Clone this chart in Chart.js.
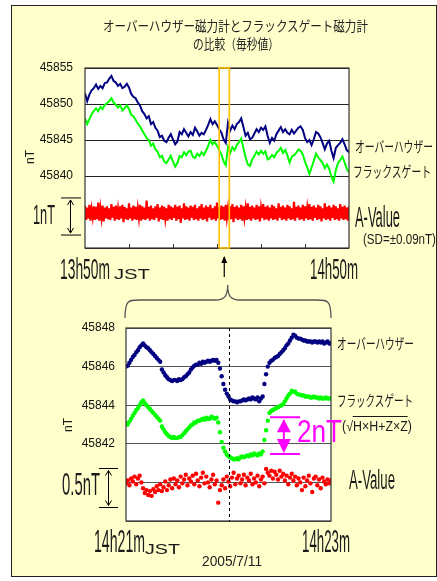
<!DOCTYPE html>
<html>
<head>
<meta charset="utf-8">
<script src="https://cdn.jsdelivr.net/npm/chart.js"></script>
<style>
html,body{margin:0;padding:0;background:#fff;}
body{width:437px;height:581px;position:relative;overflow:hidden;}
#frame{position:absolute;left:11px;top:5px;width:424px;height:570px;border:1px solid #222;background:#FFFFCC;}
canvas{position:absolute;left:0;}
#c1{top:0;}
#c2{top:280px;}
.lbl{position:absolute;white-space:nowrap;line-height:1;transform-origin:left center;color:#1a1a1a;}
.rot{position:absolute;white-space:nowrap;line-height:1;color:#1a1a1a;transform:translate(-50%,-50%) rotate(-90deg);font-family:"Liberation Sans",Arial,sans-serif;}
.ov{border-top:1px solid #1a1a1a;padding-top:1px;}
</style>
</head>
<body>
<div id="frame"></div>
<canvas id="c1" width="437" height="290"></canvas>
<canvas id="c2" width="437" height="301"></canvas>
<script>
// ---------- DATA ----------
// Upper chart: 13h50m - 14h50m (minutes from 13h50m), values every 30 s
const upperOverhauser = [
45851.5,45850.4,45851.3,45851.9,45852.2,45852.7,45852.1,45852.5,45852.2,45852.9,
45853.0,45853.5,45853.9,45853.2,45853.0,45852.5,45852.8,45852.2,45852.4,45852.8,
45852.3,45851.4,45851.0,45850.8,45850.2,45849.8,45849.0,45848.6,45848.0,45848.3,
45847.2,45847.5,45846.7,45846.3,45845.4,45845.6,45844.9,45844.7,45845.3,45845.8,
45845.1,45844.4,45844.8,45846.1,45845.8,45846.5,45846.0,45845.5,45846.1,45845.7,
45846.7,45846.2,45845.6,45846.0,45845.8,45846.4,45847.1,45847.9,45847.2,45847.6,
45847.1,45846.5,45846.0,45845.1,45844.6,45847.4,45846.3,45847.0,45846.5,45847.2,
45847.5,45848.0,45846.8,45845.6,45846.0,45845.1,45845.3,45845.9,45846.5,45846.1,
45846.7,45846.4,45846.9,45845.6,45844.6,45845.3,45844.9,45845.8,45846.3,45846.8,
45846.1,45846.5,45846.0,45845.8,45846.4,45845.9,45846.3,45846.7,45846.9,45846.4,
45845.3,45844.7,45845.0,45844.3,45845.1,45846.1,45845.9,45845.4,45844.6,45843.7,
45844.5,45844.9,45843.5,45842.5,45843.9,45844.3,45844.6,45845.1,45844.4,45843.6,
45843.3];
const upperFluxgate = [
45848.0,45847.2,45847.9,45848.6,45849.0,45849.4,45849.0,45849.6,45849.3,45849.9,
45850.1,45850.4,45850.8,45850.2,45849.9,45849.5,45849.8,45849.1,45849.4,45849.8,
45849.3,45848.5,45848.3,45847.8,45847.3,45846.9,45846.3,45845.8,45845.3,45845.0,
45844.2,45844.5,45843.7,45843.4,45842.6,45842.8,45842.0,45841.8,45842.3,45842.8,
45842.0,45841.3,45841.8,45842.8,45842.6,45843.3,45842.9,45843.4,45843.5,45842.7,
45842.5,45843.1,45842.8,45843.3,45842.9,45843.5,45844.2,45845.0,45844.4,45844.7,
45844.2,45843.6,45843.0,45842.0,45841.5,45844.0,45843.2,45844.0,45843.6,45844.3,
45844.7,45845.2,45843.9,45842.6,45841.6,45841.4,45842.3,45842.8,45843.4,45843.0,
45843.5,45843.1,45843.4,45842.3,45842.5,45842.9,45842.6,45843.2,45843.5,45843.9,
45843.2,45843.6,45842.9,45841.9,45842.7,45842.9,45843.2,45843.7,45843.5,45843.0,
45842.0,45841.2,45840.3,45841.2,45842.1,45843.1,45842.6,45842.2,45841.8,45841.1,
45841.6,45841.0,45839.9,45839.2,45840.8,45841.8,45842.2,45842.7,45841.9,45841.0,
45840.5];
// A-Value (plotted, scaled) every 15 s
const upperAValue = [
45835.9,45833.9,45835.6,45834.1,45836.0,45833.8,45835.4,45834.3,45835.8,45833.9,45835.7,45834.0,45836.3,45833.8,45835.5,45834.2,45835.9,45833.7,45835.6,45834.1,
45835.8,45834.0,45835.5,45833.9,45836.1,45834.2,45835.7,45833.8,45835.9,45834.0,45835.4,45833.9,45835.8,45834.1,45836.0,45833.6,45835.7,45834.0,45835.5,45833.9,
45836.2,45834.1,45835.6,45833.8,45835.9,45834.0,45835.7,45833.9,45835.5,45834.2,45836.0,45833.8,45835.8,45834.0,45835.6,45833.9,45836.6,45834.1,45835.7,45833.8,
45835.9,45834.0,45835.5,45833.9,45835.8,45834.2,45836.1,45833.7,45835.6,45834.0,45835.9,45833.9,45835.7,45834.1,45835.5,45833.8,45836.0,45834.0,45835.8,45833.9,
45835.6,45834.2,45836.0,45833.8,45835.7,45834.0,45835.9,45833.5,45835.5,45834.1,45836.2,45833.9,45835.8,45834.0,45835.6,45833.8,45835.9,45834.2,45835.7,45833.9,
45836.0,45834.0,45835.5,45833.8,45835.8,45834.1,45836.1,45833.9,45835.6,45834.0,45835.9,45833.7,45835.7,45834.2,45836.0,45833.9,45835.5,45834.0,45835.8,45833.8,
45836.3,45834.1,45835.6,45833.9,45835.9,45834.0,45835.7,45833.8,45836.0,45834.2,45835.5,45833.9,45835.8,45834.0,45836.1,45833.6,45835.7,45834.1,45835.9,45833.9,
45835.6,45834.0,45836.0,45833.8,45835.8,45834.2,45835.5,45833.9,45836.2,45834.0,45835.7,45833.8,45835.9,45834.1,45835.6,45833.9,45836.0,45834.0,45835.8,45833.7,
45835.5,45834.2,45836.1,45833.9,45835.7,45834.0,45835.9,45833.8,45835.6,45834.1,45836.0,45833.9,45835.8,45834.0,45835.5,45833.8,45836.2,45834.2,45835.7,45833.9,
45835.9,45834.0,45835.6,45833.8,45836.0,45834.1,45835.8,45833.9,45835.5,45834.0,45836.4,45833.8,45835.7,45834.2,45835.9,45833.9,45835.6,45834.0,45836.0,45833.8,
45835.8,45834.1,45835.5,45833.9,45836.1,45834.0,45835.7,45833.8,45835.9,45834.2,45835.6,45833.9,45836.0,45834.0,45835.8,45833.7,45835.5,45834.1,45836.2,45833.9,
45835.7,45834.0,45835.9,45833.8,45835.6,45834.2,45836.0,45833.9,45835.8,45834.0,45835.5,45833.8,45836.1,45834.1,45835.7,45833.9,45835.9,45834.0,45835.6,45833.8,
45835.8];
const upperYTicks = [45840, 45845, 45850, 45855];

// Lower chart: 14h21m - 14h23m, one value per second
const lowerOverhauser = [
45846.0,45846.05,45846.2,45846.35,45846.5,45846.6,45846.75,45846.85,45847.0,45847.1,
45847.2,45847.1,45847.0,45846.95,45846.85,45846.75,45846.65,45846.55,45846.45,45846.35,
45846.25,45845.85,45845.7,45845.55,45845.45,45845.35,45845.3,45845.25,45845.3,45845.3,
45845.25,45845.35,45845.3,45845.35,45845.45,45845.5,45845.6,45845.7,45845.85,45845.95,
45846.05,45846.1,45846.1,45846.2,45846.15,45846.25,45846.2,45846.25,45846.3,45846.25,
45846.3,45846.35,45846.3,45846.35,45846.2,45845.9,45845.5,45845.1,45844.8,45844.6,
45844.45,45844.3,45844.25,45844.2,45844.2,45844.15,45844.2,45844.2,45844.25,45844.3,
45844.25,45844.3,45844.35,45844.3,45844.4,45844.35,45844.3,45844.4,45844.2,45844.35,
45844.45,45845.1,45845.6,45846.0,45846.2,45846.3,45846.35,45846.45,45846.5,45846.55,
45846.65,45846.75,45846.85,45846.95,45847.1,45847.2,45847.35,45847.5,45847.65,45847.6,
45847.5,45847.45,45847.45,45847.4,45847.35,45847.35,45847.3,45847.3,45847.3,45847.25,
45847.3,45847.3,45847.25,45847.3,45847.25,45847.3,45847.2,45847.25,45847.3,45847.2,
45847.2];
const lowerFluxgate = [
45843.05,45843.0,45843.15,45843.3,45843.45,45843.6,45843.75,45843.85,45844.0,45844.15,
45844.25,45844.1,45844.0,45843.9,45843.8,45843.7,45843.6,45843.5,45843.4,45843.3,
45843.2,45842.9,45842.75,45842.6,45842.5,45842.4,45842.35,45842.3,45842.35,45842.3,
45842.3,45842.35,45842.35,45842.45,45842.55,45842.65,45842.75,45842.85,45842.95,45843.0,
45843.1,45843.1,45843.2,45843.2,45843.25,45843.3,45843.25,45843.35,45843.3,45843.3,
45843.4,45843.35,45843.3,45843.35,45843.1,45842.6,45842.1,45841.8,45841.6,45841.45,
45841.35,45841.3,45841.25,45841.2,45841.2,45841.25,45841.2,45841.3,45841.35,45841.3,
45841.35,45841.4,45841.35,45841.45,45841.4,45841.5,45841.45,45841.4,45841.5,45841.45,
45841.6,45842.2,45842.7,45843.2,45843.6,45843.7,45843.75,45843.8,45843.85,45843.9,
45843.95,45844.0,45844.05,45844.2,45844.35,45844.5,45844.6,45844.75,45844.7,45844.7,
45844.6,45844.55,45844.55,45844.5,45844.5,45844.45,45844.45,45844.45,45844.4,45844.4,
45844.45,45844.4,45844.4,45844.35,45844.4,45844.35,45844.35,45844.4,45844.35,45844.35,
45844.35];
const lowerAValue = [
45839.95,45840.1,45839.85,45840.2,45840.05,45840.3,45839.9,45840.2,45840.35,45840.0,
45839.7,45839.45,45839.6,45839.35,45839.55,45839.3,45839.65,45839.5,45839.8,45839.6,
45839.9,45839.55,45839.75,45840.05,45839.6,45839.85,45840.15,45839.7,45840.2,45839.9,
45840.1,45839.75,45840.3,45839.95,45840.15,45840.4,45839.85,45840.2,45840.05,45840.35,
45839.9,45840.45,45840.1,45839.8,45840.25,45840.5,45839.95,45840.3,45840.0,45839.75,
45840.15,45840.4,45839.9,45840.1,45838.95,45839.6,45839.85,45840.15,45839.7,45840.3,
45840.05,45839.8,45840.25,45840.5,45839.9,45840.2,45840.35,45839.95,45840.15,45840.4,
45839.85,45840.25,45840.1,45840.45,45839.9,45840.2,45840.0,45840.35,45839.8,45840.15,
45840.3,45839.95,45840.7,45840.5,45840.35,45840.6,45840.2,45840.55,45840.4,45840.15,
45840.6,45840.3,45840.45,45840.1,45840.35,45839.9,45840.25,45840.45,45840.1,45840.3,
45839.85,45840.2,45840.0,45839.6,45840.25,45839.8,45840.1,45840.35,45839.95,45839.5,
45840.2,45840.3,45839.85,45840.15,45839.7,45840.25,45840.05,45839.9,45840.15,45839.95,
45840.1];
const lowerYTicks = [45842, 45844, 45846, 45848];

// ---------- BUILD ----------
const toXY = (arr, span) => arr.map((v, i) => ({x: i * span / (arr.length - 1), y: v}));
const BORDER = '#333';

function arrowHead(ctx, x, y, dir, size) { // dir -1 up, +1 down
  ctx.beginPath();
  ctx.moveTo(x - size * 0.6, y - dir * size);
  ctx.lineTo(x, y);
  ctx.lineTo(x + size * 0.6, y - dir * size);
  ctx.stroke();
}

const upperDeco = {
  id: 'upperDeco',
  beforeDraw(chart) {
    const {ctx, chartArea: a} = chart;
    ctx.save(); ctx.fillStyle = '#fff'; ctx.fillRect(a.left, a.top, a.right - a.left, a.bottom - a.top); ctx.restore();
  },
  afterDraw(chart) {
    const {ctx, chartArea: a, scales: {x, y}} = chart;
    ctx.save();
    ctx.strokeStyle = BORDER; ctx.lineWidth = 1.2;
    ctx.strokeRect(a.left, a.top, a.right - a.left, a.bottom - a.top);
    ctx.lineWidth = 1;
    [10, 20, 30, 40, 50].forEach(m => {
      const px = Math.round(x.getPixelForValue(m)) + 0.5;
      ctx.beginPath(); ctx.moveTo(px, a.bottom); ctx.lineTo(px, a.bottom - 4); ctx.stroke();
    });
    const x1 = x.getPixelForValue(30.5), x2 = x.getPixelForValue(32.8);
    ctx.strokeStyle = '#FFC000'; ctx.lineWidth = 1.6;
    ctx.strokeRect(x1, a.top, x2 - x1, a.bottom - a.top);
    const ax = (x1 + x2) / 2;
    ctx.strokeStyle = '#000'; ctx.fillStyle = '#000'; ctx.lineWidth = 1.2;
    ctx.beginPath(); ctx.moveTo(ax, a.bottom + 29); ctx.lineTo(ax, a.bottom + 9); ctx.stroke();
    ctx.beginPath(); ctx.moveTo(ax, a.bottom + 8); ctx.lineTo(ax - 3, a.bottom + 15); ctx.lineTo(ax + 3, a.bottom + 15); ctx.closePath(); ctx.fill();
    const yt = y.getPixelForValue(45836.95), yb = y.getPixelForValue(45831.8);
    ctx.lineWidth = 1;
    ctx.beginPath(); ctx.moveTo(61, yt); ctx.lineTo(81, yt); ctx.moveTo(61, yb); ctx.lineTo(81, yb);
    ctx.moveTo(70.5, yt + 2); ctx.lineTo(70.5, yb - 2); ctx.stroke();
    arrowHead(ctx, 70.5, yt + 2, -1, 5);
    arrowHead(ctx, 70.5, yb - 2, 1, 5);
    ctx.restore();
  }
};

new Chart(document.getElementById('c1'), {
  type: 'line',
  data: {
    datasets: [
      {data: toXY(upperAValue, 60), borderColor: '#FF0000', borderWidth: 2.2, pointRadius: 0, tension: 0},
      {data: toXY(upperFluxgate, 60), borderColor: '#00FF00', borderWidth: 2, pointRadius: 0, tension: 0},
      {data: toXY(upperOverhauser, 60), borderColor: '#000080', borderWidth: 2, pointRadius: 0, tension: 0}
    ]
  },
  options: {
    responsive: false, animation: false, events: [],
    layout: {padding: {left: 0, right: 88, top: 68, bottom: 42}},
    plugins: {legend: {display: false}, tooltip: {enabled: false}, title: {display: false}},
    scales: {
      x: {type: 'linear', min: 0, max: 60, display: false},
      y: {
        min: 45830, max: 45855,
        afterFit: s => { s.width = 85; },
        afterBuildTicks: s => { s.ticks = [45830, 45835].concat(upperYTicks).map(v => ({value: v})); },
        ticks: {padding: 12, color: '#111', font: {family: '"Liberation Sans", Arial, sans-serif', size: 12},
          callback: v => upperYTicks.includes(v) ? String(v) : ''},
        grid: {color: '#222', lineWidth: 1, drawTicks: false},
        border: {display: false}
      }
    }
  },
  plugins: [upperDeco]
});

const lowerDeco = {
  id: 'lowerDeco',
  beforeDraw(chart) {
    const {ctx, chartArea: a} = chart;
    ctx.save(); ctx.fillStyle = '#fff'; ctx.fillRect(a.left, a.top, a.right - a.left, a.bottom - a.top); ctx.restore();
  },
  afterDraw(chart) {
    const {ctx, chartArea: a, scales: {x, y}} = chart;
    ctx.save();
    ctx.strokeStyle = BORDER; ctx.lineWidth = 1.2;
    ctx.strokeRect(a.left, a.top, a.right - a.left, a.bottom - a.top);
    const xm = Math.round(x.getPixelForValue(60)) + 0.5;
    ctx.setLineDash([3, 3]); ctx.strokeStyle = '#000'; ctx.lineWidth = 1;
    ctx.beginPath(); ctx.moveTo(xm, a.top); ctx.lineTo(xm, a.bottom); ctx.stroke();
    ctx.setLineDash([]);
    const L = a.left - 1, R = a.right, tip = x.getPixelForValue(59.5);
    const yb = a.top - 28, yl = a.top - 10, yt = a.top - 43;
    ctx.strokeStyle = '#555'; ctx.lineWidth = 1.3;
    ctx.beginPath();
    ctx.moveTo(L, yl);
    ctx.bezierCurveTo(L, yb - 1, L + 4, yb, L + 16, yb);
    ctx.lineTo(tip - 12, yb);
    ctx.bezierCurveTo(tip - 3, yb, tip, yb - 4, tip, yt);
    ctx.bezierCurveTo(tip, yb - 4, tip + 3, yb, tip + 12, yb);
    ctx.lineTo(R - 16, yb);
    ctx.bezierCurveTo(R - 4, yb, R, yb - 1, R, yl);
    ctx.stroke();
    const t5 = y.getPixelForValue(45840.72), b5 = y.getPixelForValue(45838.7);
    ctx.strokeStyle = '#000'; ctx.lineWidth = 1;
    ctx.beginPath(); ctx.moveTo(99, t5); ctx.lineTo(118, t5); ctx.moveTo(99, b5); ctx.lineTo(118, b5);
    ctx.moveTo(108.5, t5 + 2); ctx.lineTo(108.5, b5 - 2); ctx.stroke();
    arrowHead(ctx, 108.5, t5 + 2, -1, 5);
    arrowHead(ctx, 108.5, b5 - 2, 1, 5);
    const mt = y.getPixelForValue(45843.37), mb = y.getPixelForValue(45841.47);
    const mx1 = x.getPixelForValue(84.3), mx2 = x.getPixelForValue(101.9), mc = x.getPixelForValue(92.4);
    ctx.strokeStyle = '#FF00FF'; ctx.fillStyle = '#FF00FF'; ctx.lineWidth = 2;
    ctx.beginPath(); ctx.moveTo(mx1, mt); ctx.lineTo(mx2, mt); ctx.moveTo(mx1, mb); ctx.lineTo(mx2, mb);
    ctx.moveTo(mc, mt + 3); ctx.lineTo(mc, mb - 3); ctx.stroke();
    ctx.beginPath(); ctx.moveTo(mc, mt + 2); ctx.lineTo(mc - 7, mt + 15); ctx.lineTo(mc + 7, mt + 15); ctx.closePath(); ctx.fill();
    ctx.beginPath(); ctx.moveTo(mc, mb - 1); ctx.lineTo(mc - 7, mb - 15); ctx.lineTo(mc + 7, mb - 15); ctx.closePath(); ctx.fill();
    ctx.restore();
  }
};

const dots = (arr, color) => ({data: toXY(arr, 120), showLine: false, pointRadius: 2.2, pointBorderWidth: 0,
  pointBackgroundColor: color, borderColor: color, backgroundColor: color});

new Chart(document.getElementById('c2'), {
  type: 'line',
  data: {datasets: [dots(lowerAValue, '#FF0000'), dots(lowerFluxgate, '#00FF00'), dots(lowerOverhauser, '#000080')]},
  options: {
    responsive: false, animation: false, events: [],
    layout: {padding: {left: 0, right: 106, top: 48, bottom: 60}},
    plugins: {legend: {display: false}, tooltip: {enabled: false}},
    scales: {
      x: {type: 'linear', min: 0, max: 120, display: false},
      y: {
        min: 45838, max: 45848,
        afterFit: s => { s.width = 126; },
        afterBuildTicks: s => { s.ticks = [45838, 45840].concat(lowerYTicks).map(v => ({value: v})); },
        ticks: {padding: 11, color: '#111', font: {family: '"Liberation Sans", Arial, sans-serif', size: 12},
          callback: v => lowerYTicks.includes(v) ? String(v) : ''},
        grid: {color: '#555', lineWidth: 1, drawTicks: false},
        border: {display: false}
      }
    }
  },
  plugins: [lowerDeco]
});

// ---------- TEXT LABELS ----------
const CJK = '"Noto Sans CJK JP", sans-serif';
const SANS = '"Liberation Sans", Arial, sans-serif';
const labels = [
  {h: 'オーバーハウザー磁力計とフラックスゲート磁力計', x: 103, y: 25, w: 265, fs: 14, f: CJK, c: '#222'},
  {h: 'の比較（毎秒値）', x: 193, y: 43, w: 86, fs: 14, f: CJK, c: '#222'},
  {h: '1nT', x: 33, y: 215, w: 22, fs: 28, f: SANS},
  {h: '13h50m', x: 60, y: 269, w: 50, fs: 30, f: SANS},
  {h: 'JST', x: 114, y: 274, w: 36, fs: 14, f: SANS},
  {h: '14h50m', x: 310, y: 269, w: 48, fs: 30, f: SANS},
  {h: 'オーバーハウザー', x: 355, y: 145, w: 78, fs: 15, f: CJK},
  {h: 'フラックスゲート', x: 353, y: 170, w: 78, fs: 15, f: CJK},
  {h: 'A-Value', x: 355, y: 217, w: 45, fs: 30, f: SANS},
  {h: '(SD=±0.09nT)', x: 363, y: 238, w: 73, fs: 15, f: SANS},
  {h: '0.5nT', x: 62, y: 484, w: 38, fs: 32, f: SANS},
  {h: '14h21m', x: 94, y: 541, w: 51, fs: 32, f: SANS},
  {h: 'JST', x: 145, y: 549, w: 35, fs: 14, f: SANS},
  {h: '14h23m', x: 302, y: 541, w: 48, fs: 32, f: SANS},
  {h: '2005/7/11', x: 202, y: 561, w: 60, fs: 14, f: SANS, c: '#222'},
  {h: 'オーバーハウザー', x: 337, y: 342, w: 77, fs: 15, f: CJK},
  {h: 'フラックスゲート', x: 337, y: 399, w: 76, fs: 15, f: CJK},
  {h: '(√<span class="ov">H×H+Z×Z</span>)', x: 342, y: 426, w: 70, fs: 14, f: SANS},
  {h: 'A-Value', x: 349, y: 480, w: 46, fs: 27, f: SANS},
  {h: '2nT', x: 297, y: 431, w: 45, fs: 32, f: SANS, c: '#FF00FF'}
];
labels.forEach(l => {
  const d = document.createElement('div');
  d.className = 'lbl';
  d.innerHTML = l.h;
  d.style.fontFamily = l.f; d.style.fontSize = l.fs + 'px';
  if (l.c) d.style.color = l.c;
  d.style.left = l.x + 'px';
  document.body.appendChild(d);
  const r = d.getBoundingClientRect();
  d.style.top = (l.y - r.height / 2) + 'px';
  d.style.transform = 'scaleX(' + (l.w / r.width).toFixed(3) + ')';
});
[{x: 30, y: 157}, {x: 68, y: 425}].forEach(p => {
  const d = document.createElement('div');
  d.className = 'rot'; d.textContent = 'nT'; d.style.fontSize = '12px';
  d.style.left = p.x + 'px'; d.style.top = p.y + 'px';
  document.body.appendChild(d);
});
</script>
</body>
</html>
